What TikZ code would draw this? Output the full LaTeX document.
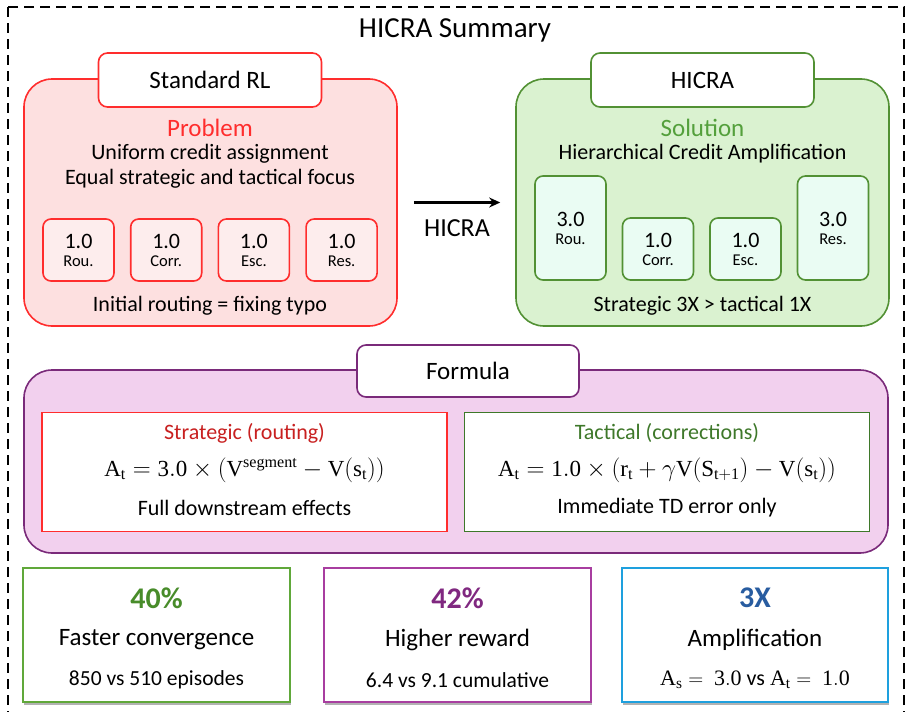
\documentclass[tikz,border=0pt]{standalone}
\usepackage{fontspec}
\setmainfont{Carlito}
\setmathrm{Liberation Serif}
\usepackage{amsmath}
\usepackage{tikz}
\usetikzlibrary{positioning,arrows.meta,shadows}

\definecolor{rlred}{RGB}{255,45,45}
\definecolor{rlfill}{RGB}{253,224,224}
\definecolor{rlcell}{RGB}{253,237,237}
\definecolor{hgreen}{RGB}{82,145,52}
\definecolor{hfill}{RGB}{218,242,208}
\definecolor{hcell}{RGB}{234,252,243}
\definecolor{htext}{RGB}{84,160,60}
\definecolor{fpurple}{RGB}{122,42,122}
\definecolor{ffill}{RGB}{242,208,238}
\definecolor{stext}{RGB}{200,32,32}
\definecolor{ttext}{RGB}{62,120,42}
\definecolor{kgreen}{RGB}{96,168,58}
\definecolor{kgreentx}{RGB}{72,140,42}
\definecolor{kpurple}{RGB}{168,62,160}
\definecolor{kpurpletx}{RGB}{128,40,128}
\definecolor{kblue}{RGB}{30,160,222}
\definecolor{kbluetx}{RGB}{40,92,160}

\newcommand{\fs}[1]{\fontsize{#1}{#1}\selectfont}

\begin{document}
\begin{tikzpicture}[
    x=1pt,y=-1pt,>=Stealth,
    panel/.style={draw,line width=1.6pt,rounded corners=28pt,minimum width=373pt,minimum height=247pt},
    tab/.style={draw,line width=1.6pt,fill=white,rounded corners=9pt,minimum width=223pt,minimum height=54pt,font=\fs{25}},
    cell/.style={draw,line width=1.6pt,rounded corners=8pt,minimum width=71pt,align=center,inner sep=0pt},
    txt/.style={inner sep=0pt,font=\fs{22}},
    fbox/.style={draw,line width=1.6pt,fill=white,minimum width=405pt,minimum height=119pt},
    kbox/.style={draw,line width=1.6pt,fill=white,minimum width=267pt,minimum height=134pt,
        drop shadow={opacity=0.3,shadow xshift=1pt,shadow yshift=-2.5pt,fill=black}}
]
\useasboundingbox (0,0) rectangle (906,712);
\draw[line width=1.8pt,dash pattern=on 10pt off 6pt] (8,7) rectangle (904,740);
\node[txt,font=\fs{29}] (title) at (455,30) {HICRA Summary};

\node[panel,draw=rlred,fill=rlfill] (rl) at (210.5,202.5) {};
\node[tab,draw=rlred] (rltab) at (210,80) {Standard RL};
\node[txt,font=\fs{25},text=rlred] (prob) at (210,128) {Problem};
\node[txt] (prob1) at (210,154) {Uniform credit assignment};
\node[txt] (prob2) at (210,179) {Equal strategic and tactical focus};
\foreach \lab [count=\i] in {Rou.,Corr.,Esc.,Res.}
  \node[cell,draw=rlred,fill=rlcell,minimum height=62pt] (r\i) at ({78.5+87.7*(\i-1)},250)
    {\fs{22}1.0\\[6pt]\fs{16.5}\lab};
\node[txt] (rlnote) at (210,306) {Initial routing = fixing typo};

\node[panel,draw=hgreen,fill=hfill] (hc) at (702.5,202.5) {};
\node[tab,draw=hgreen] (hctab) at (702.5,80) {HICRA};
\node[txt,font=\fs{25},text=htext] (sol) at (702.5,128) {Solution};
\node[txt] (sol1) at (702.5,154) {Hierarchical Credit Amplification};
\node[cell,draw=hgreen,fill=hcell,minimum height=104pt] (h1) at (570.5,228) {\fs{22}3.0\\[6pt]\fs{16.5}Rou.};
\node[cell,draw=hgreen,fill=hcell,minimum height=62pt] (h2) at (658,249) {\fs{22}1.0\\[6pt]\fs{16.5}Corr.};
\node[cell,draw=hgreen,fill=hcell,minimum height=62pt] (h3) at (745.5,249) {\fs{22}1.0\\[6pt]\fs{16.5}Esc.};
\node[cell,draw=hgreen,fill=hcell,minimum height=104pt] (h4) at (833,228) {\fs{22}3.0\\[6pt]\fs{16.5}Res.};
\node[txt] (hcnote) at (702.5,306) {Strategic 3X > tactical 1X};

\draw[-{Stealth[length=11pt,width=10pt]},line width=2.4pt] ([xshift=16pt]rl.east) -- ([xshift=-15pt]hc.west)
  node[midway,below=16pt,txt,font=\fs{26}] (arrlab) {HICRA};

\node[draw=fpurple,fill=ffill,line width=1.6pt,rounded corners=28pt,minimum width=864pt,minimum height=183pt] (fm) at (456,461.5) {};
\node[tab,draw=fpurple,minimum width=222pt,minimum height=52pt] (fmtab) at (468,371) {Formula};
\node[fbox,draw=rlred] (strat) at (244.5,472) {};
\node[fbox,draw=ttext] (tact) at (667,472) {};
\node[txt,font=\fs{22},text=stext] at (244.5,433) {Strategic (routing)};
\node[txt,font=\fs{23}] at (244.5,470) {$\mathrm{A}_\mathrm{t}=\mathrm{3.0}\times(\mathrm{V}^{\mathrm{segment}}-\mathrm{V}(\mathrm{s}_\mathrm{t}))$};
\node[txt,font=\fs{22}] at (244.5,508) {Full downstream effects};
\node[txt,font=\fs{22},text=ttext] at (667,433) {Tactical (corrections)};
\node[txt,font=\fs{23}] at (667,470) {$\mathrm{A}_\mathrm{t}=\mathrm{1.0}\times(\mathrm{r}_\mathrm{t}+\gamma\mathrm{V}(\mathrm{S}_{\mathrm{t+1}})-\mathrm{V}(\mathrm{s}_\mathrm{t}))$};
\node[txt,font=\fs{22}] at (667,508) {Immediate TD error only};

\node[kbox,draw=kgreen] (k1) at (156.5,635) {};
\node[kbox,draw=kpurple] (k2) at (457.5,635) {};
\node[kbox,draw=kblue,minimum width=266pt] (k3) at (755,635) {};
\node[txt,font=\fs{30}\bfseries,text=kgreentx] at (156.5,598) {40\%};
\node[txt,font=\fs{25}] at (156.5,640) {Faster convergence};
\node[txt,font=\fs{21.5}] at (156.5,680) {850 vs 510 episodes};
\node[txt,font=\fs{30}\bfseries,text=kpurpletx] at (457.5,598) {42\%};
\node[txt,font=\fs{25}] at (457.5,640) {Higher reward};
\node[txt,font=\fs{21.5}] at (457.5,680) {6.4 vs 9.1 cumulative};
\node[txt,font=\fs{30}\bfseries,text=kbluetx] at (755,598) {3X};
\node[txt,font=\fs{25}] at (755,640) {Amplification};
\node[txt,font=\fs{22}] at (755,680) {$\mathrm{A}_\mathrm{s}=\ \mathrm{3.0}$ vs $\mathrm{A}_\mathrm{t}=\ \mathrm{1.0}$};
\end{tikzpicture}
\end{document}
